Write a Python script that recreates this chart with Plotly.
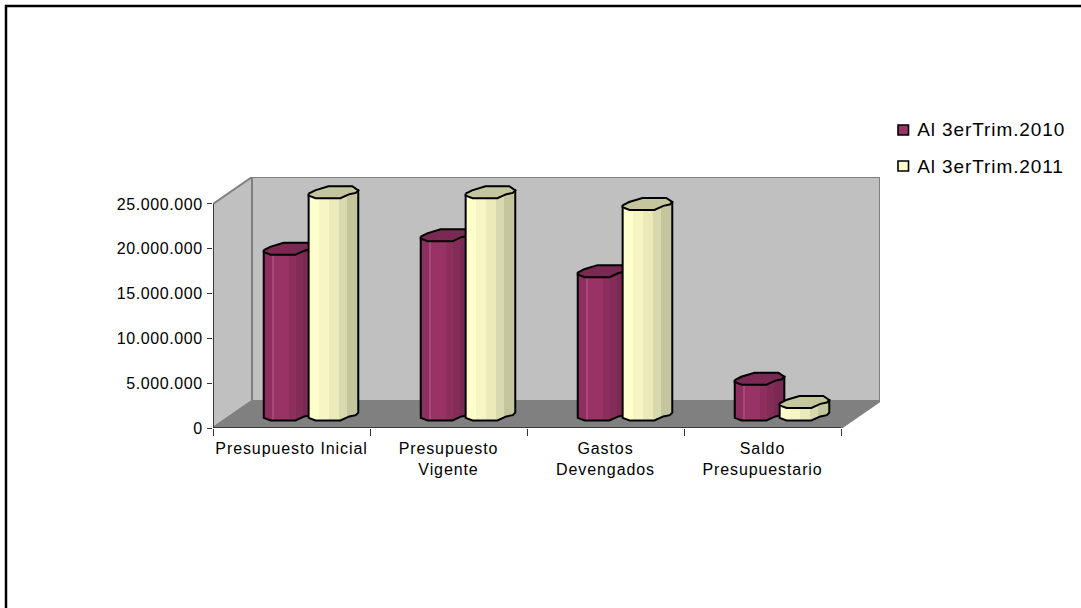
import plotly.graph_objects as go

categories = ["Presupuesto Inicial", "Presupuesto<br>Vigente", "Gastos<br>Devengados", "Saldo<br>Presupuestario"]
series_2010 = [18500000, 20000000, 16000000, 4000000]
series_2011 = [24800000, 24800000, 23500000, 1400000]
series_names = ["Al 3erTrim.2010", "Al 3erTrim.2011"]
y_ticks = [0, 5000000, 10000000, 15000000, 20000000, 25000000]
y_tick_labels = ["0", "5.000.000", "10.000.000", "15.000.000", "20.000.000", "25.000.000"]

# Depth of the fake 3D box, in axis units
DEPTH_X = 39 / 157
DEPTH_Y = 3010000
Y_TOP = 25000000
N = len(categories)

# Cylinder geometry in axis units
CYL_W = 0.316
CYL_H = 1340000
CYL_OFFSET = 0.143

# Faceted outline of the cylinder cap: (u across, v back to front)
CAP = [(0.0, 0.62), (0.13, 0.34), (0.40, 0.0), (0.88, 0.0), (1.0, 0.34), (0.95, 0.55),
       (0.82, 0.66), (0.64, 1.0), (0.14, 1.0), (0.0, 0.78)]
FRONT = [(0.0, 0.78), (0.14, 1.0), (0.64, 1.0), (0.82, 0.66), (0.95, 0.55), (1.0, 0.34)]


def stepped(pairs):
    scale = []
    for start, end, color in pairs:
        scale += [[start, color], [end, color]]
    return scale


PALETTES = {
    0: dict(cap="#7A2952", side=stepped([(0, .16, "#8E2F5F"), (.16, .2, "#A8487A"), (.2, .5, "#993366"),
                                         (.5, .66, "#8C2F5D"), (.66, .8, "#832C58"), (.8, 1, "#7A2952")])),
    1: dict(cap="#C6C69E", side=stepped([(0, .2, "#FFFFCC"), (.2, .42, "#F6F6C4"), (.42, .62, "#EAEABB"),
                                         (.62, .78, "#D9D9AE"), (.78, 1, "#C6C69E")])),
}

fig = go.Figure()


def cylinder(cat_index, series_index, value):
    sign = -1 if series_index == 0 else 1
    cx = cat_index + 0.5 + DEPTH_X / 2 + sign * CYL_OFFSET
    mid = DEPTH_Y / 2
    top = value + mid
    left, right = cx - CYL_W / 2, cx + CYL_W / 2

    def px(u):
        return cx + (u - 0.5) * CYL_W

    def py(v, base):
        return base + (0.5 - v) * CYL_H

    # Body: the cap's front profile repeated at floor level, joined to the cap's sides
    xs = [px(CAP[0][0])] + [px(u) for u, _ in FRONT] + [px(CAP[4][0])]
    ys = [py(CAP[0][1], top)] + [py(v, mid) for _, v in FRONT] + [py(CAP[4][1], top)]
    fig.add_trace(go.Scatter(
        x=xs + [xs[0]], y=ys + [ys[0]], mode="lines", fill="toself",
        line=dict(color="black", width=2), hoverinfo="skip", showlegend=False,
        fillgradient=dict(type="horizontal", colorscale=PALETTES[series_index]["side"],
                          start=left, stop=right),
    ))
    # Cap
    fig.add_trace(go.Scatter(
        x=[px(u) for u, _ in CAP] + [px(CAP[0][0])],
        y=[py(v, top) for _, v in CAP] + [py(CAP[0][1], top)],
        mode="lines", fill="toself", fillcolor=PALETTES[series_index]["cap"],
        line=dict(color="black", width=2), hoverinfo="skip", showlegend=False,
    ))


for i in range(N):
    cylinder(i, 0, series_2010[i])
    cylinder(i, 1, series_2011[i])


def polygon(points):
    return "M " + " L ".join(f"{x},{y}" for x, y in points) + " Z"


GREY = "#808080"
WALL = "#C0C0C0"
shapes = [
    # back wall
    dict(type="path", xref="x", yref="y", layer="below", fillcolor=WALL, line=dict(color=GREY, width=2),
         path=polygon([(DEPTH_X, DEPTH_Y), (DEPTH_X, Y_TOP + DEPTH_Y), (N + DEPTH_X, Y_TOP + DEPTH_Y), (N + DEPTH_X, DEPTH_Y)])),
    # side wall
    dict(type="path", xref="x", yref="y", layer="below", fillcolor=WALL, line=dict(color=GREY, width=2),
         path=polygon([(0, 0), (0, Y_TOP), (DEPTH_X, Y_TOP + DEPTH_Y), (DEPTH_X, DEPTH_Y)])),
    # floor
    dict(type="path", xref="x", yref="y", layer="below", fillcolor=GREY, line=dict(color=GREY, width=2),
         path=polygon([(0, 0), (N, 0), (N + DEPTH_X, DEPTH_Y), (DEPTH_X, DEPTH_Y)])),
    # axis lines
    dict(type="line", xref="x", yref="y", layer="below", x0=0, x1=0, y0=0, y1=Y_TOP, line=dict(color="#222222", width=1.5)),
    dict(type="line", xref="x", yref="y", layer="below", x0=0, x1=N, y0=0, y1=0, line=dict(color="#222222", width=1.5)),
    # frame of the sheet
    dict(type="line", xref="paper", yref="paper", x0=6 / 1081, x1=6 / 1081, y0=0, y1=1 - 5 / 608, line=dict(color="black", width=2.5)),
    dict(type="line", xref="paper", yref="paper", x0=5 / 1081, x1=1, y0=1 - 6 / 608, y1=1 - 6 / 608, line=dict(color="black", width=2.5)),
]

# Legend swatches and labels
LEGEND_COLORS = ["#993366", "#FFFFCC"]
LEGEND_Y = [130, 166]
annotations = []
for name, color, ly in zip(series_names, LEGEND_COLORS, LEGEND_Y):
    shapes.append(dict(type="rect", xref="paper", yref="paper", x0=898 / 1081, x1=908.5 / 1081,
                       y0=1 - (ly + 5) / 608, y1=1 - (ly - 5) / 608, fillcolor=color,
                       line=dict(color="black", width=1.6)))
    annotations.append(dict(xref="paper", yref="paper", x=917 / 1081, y=1 - ly / 608, text=name, showarrow=False,
                            xanchor="left", yanchor="middle", xshift=5,
                            font=dict(family="Liberation Sans", size=19, color="black")))

fig.update_layout(
    width=1081, height=608, autosize=False,
    margin=dict(l=0, r=0, t=0, b=0, autoexpand=False),
    paper_bgcolor="white", plot_bgcolor="rgba(0,0,0,0)",
    showlegend=False, shapes=shapes, annotations=annotations,
    font=dict(family="Liberation Sans", size=16, color="black"),
    xaxis=dict(
        domain=[213 / 1081, 880 / 1081], range=[0, N + DEPTH_X], showgrid=False, zeroline=False, showline=False,
        automargin=False,
        tickmode="array", tickvals=[i + 0.5 for i in range(N)], ticktext=categories, ticks="outside", ticklen=0,
        tickangle=0, ticklabelstandoff=6,
        minor=dict(tickmode="array", tickvals=list(range(N + 1)), ticks="outside", ticklen=7, tickwidth=1, tickcolor="#333333"),
        tickfont=dict(size=16, color="black"),
    ),
    yaxis=dict(
        domain=[1 - 428 / 608, 1 - 177 / 608], range=[0, Y_TOP + DEPTH_Y], showgrid=False, zeroline=False, showline=False,
        automargin=False,
        tickmode="array", tickvals=y_ticks, ticktext=y_tick_labels, ticks="outside", ticklen=5, tickwidth=1,
        tickcolor="#333333", tickfont=dict(size=16, color="black"), ticklabelstandoff=1,
    ),
)

# Wider tracking on the labels
spacing = """
document.querySelectorAll('.xtick text, .annotation text').forEach(function (t) {
    t.style.letterSpacing = '0.9px';
});
document.querySelectorAll('.ytick text').forEach(function (t) {
    t.style.letterSpacing = '0.6px';
});
"""
fig.write_html("out.html", post_script=spacing)
